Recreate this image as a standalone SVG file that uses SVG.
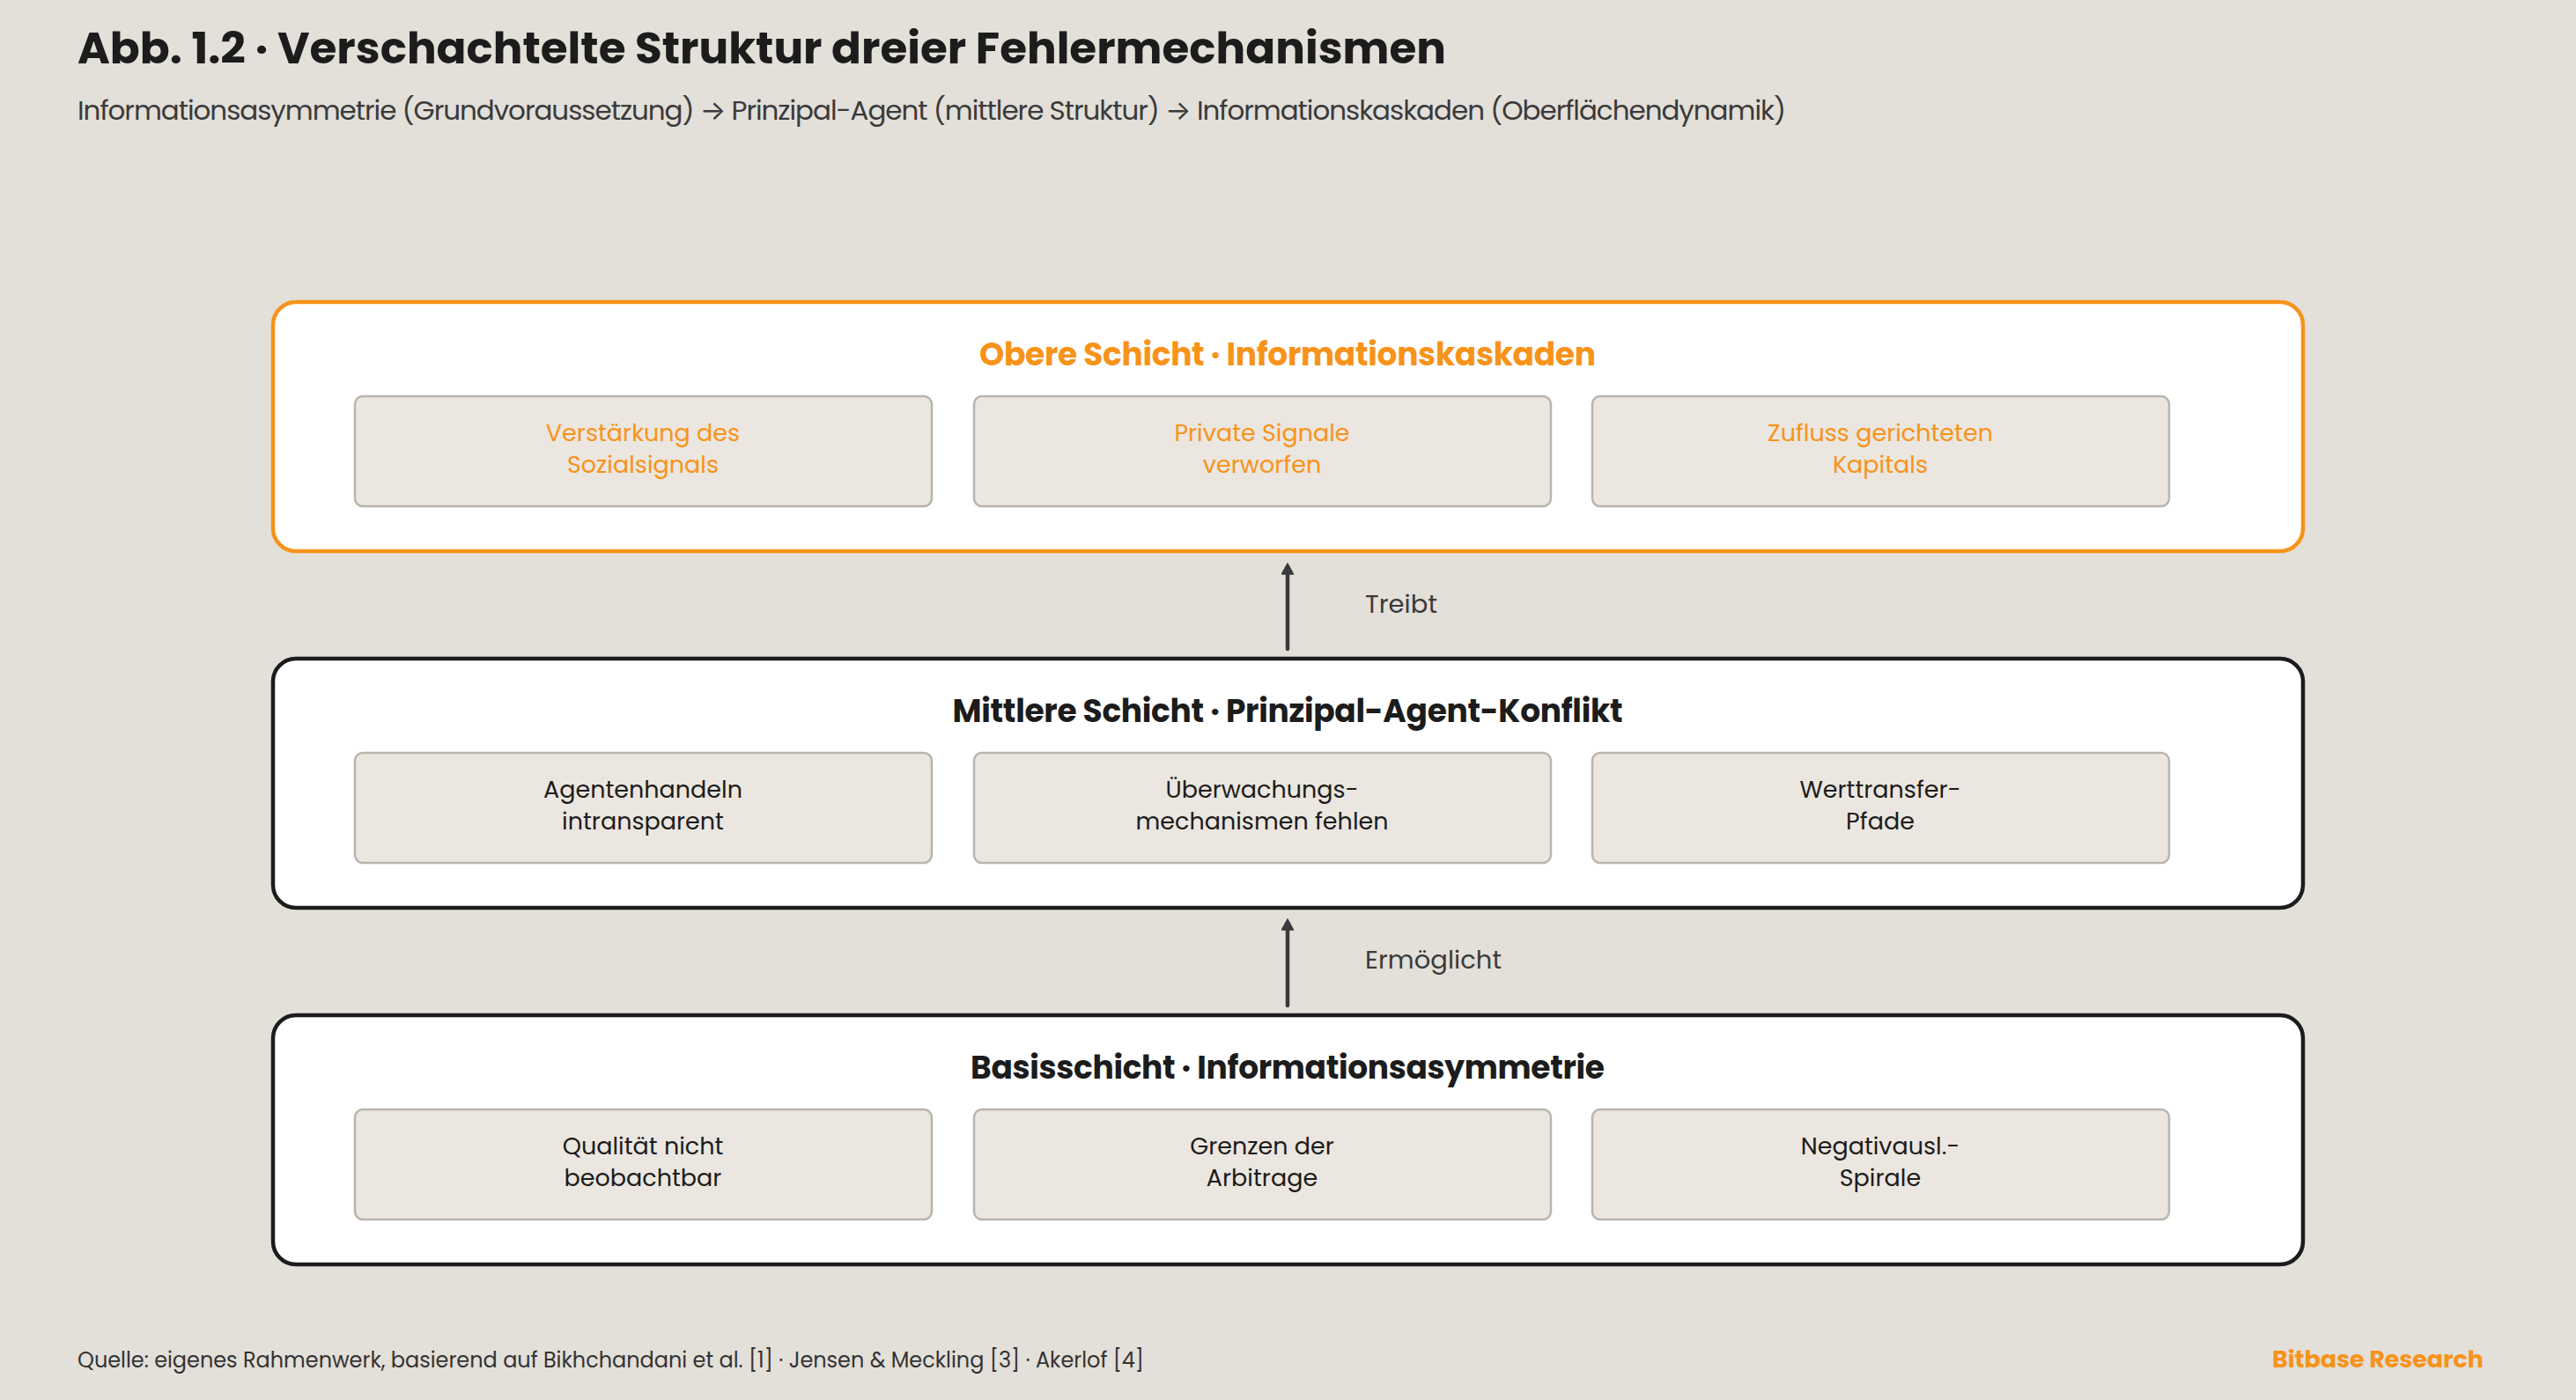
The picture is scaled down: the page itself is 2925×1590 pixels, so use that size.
<svg xmlns="http://www.w3.org/2000/svg" width="2925" height="1590" viewBox="0 0 2925 1590">
<defs>
<style>
text{font-family:"Poppins","Inter","Noto Sans","Liberation Sans",sans-serif;}
.title{font-size:50px;font-weight:700;fill:#1c1c1c;}
.sub{font-size:31px;font-weight:400;fill:#3a3a3a;}
.layer{fill:#ffffff;stroke:#1c1c1c;stroke-width:4.5;}
.layer.top{stroke:#f7931a;}
.lt{font-size:36px;font-weight:700;fill:#1c1c1c;text-anchor:middle;}
.lt.top{fill:#f7931a;}
.cell{fill:#ebe6df;stroke:#b9b5ad;stroke-width:2.5;}
.ct{font-size:27px;font-weight:400;fill:#1c1c1c;text-anchor:middle;}
.ct.top{fill:#f7931a;}
.conn{stroke:#3a3a3a;stroke-width:4.5;fill:none;stroke-linecap:round;}
.cl{font-size:29px;font-weight:400;fill:#3a3a3a;}
.foot{font-size:24px;fill:#333333;}
.brand{font-size:27px;font-weight:700;fill:#f7931a;text-anchor:end;}
</style>
<marker id="ah" viewBox="-1 -1 14 15" refX="0" refY="6.5" markerWidth="14" markerHeight="15" markerUnits="userSpaceOnUse" orient="auto">
<path d="M0,0 L12,6.5 L0,13 z" fill="#3a3a3a" stroke="#3a3a3a" stroke-width="1.5" stroke-linejoin="round"/>
</marker>
</defs>
<rect x="0" y="0" width="2925" height="1590" fill="#e3dfd9"/>
<text class="title" x="88" y="72" textLength="1554">Abb. 1.2 · Verschachtelte Struktur dreier Fehlermechanismen</text>
<text class="sub" x="88" y="136" textLength="1940">Informationsasymmetrie (Grundvoraussetzung) → Prinzipal-Agent (mittlere Struktur) → Informationskaskaden (Oberflächendynamik)</text>

<g id="layer-top">
<rect class="layer top" x="310" y="343" width="2305" height="283" rx="26"/>
<text class="lt top" x="1462" y="415" textLength="700">Obere Schicht · Informationskaskaden</text>
</g>
<g id="top-1">
<rect class="cell" x="403" y="450" width="655" height="125" rx="9"/>
<text class="ct top" x="730" y="501">Verstärkung des</text>
<text class="ct top" x="730" y="537">Sozialsignals</text>
</g>
<g id="top-2">
<rect class="cell" x="1106" y="450" width="655" height="125" rx="9"/>
<text class="ct top" x="1433" y="501">Private Signale</text>
<text class="ct top" x="1433" y="537">verworfen</text>
</g>
<g id="top-3">
<rect class="cell" x="1808" y="450" width="655" height="125" rx="9"/>
<text class="ct top" x="2135" y="501">Zufluss gerichteten</text>
<text class="ct top" x="2135" y="537">Kapitals</text>
</g>

<g id="layer-mid">
<rect class="layer" x="310" y="748" width="2305" height="283" rx="26"/>
<text class="lt" x="1462" y="820" textLength="761">Mittlere Schicht · Prinzipal-Agent-Konflikt</text>
</g>
<g id="mid-1">
<rect class="cell" x="403" y="855" width="655" height="125" rx="9"/>
<text class="ct" x="730" y="906">Agentenhandeln</text>
<text class="ct" x="730" y="942">intransparent</text>
</g>
<g id="mid-2">
<rect class="cell" x="1106" y="855" width="655" height="125" rx="9"/>
<text class="ct" x="1433" y="906">Überwachungs-</text>
<text class="ct" x="1433" y="942">mechanismen fehlen</text>
</g>
<g id="mid-3">
<rect class="cell" x="1808" y="855" width="655" height="125" rx="9"/>
<text class="ct" x="2135" y="906">Werttransfer-</text>
<text class="ct" x="2135" y="942">Pfade</text>
</g>

<g id="layer-base">
<rect class="layer" x="310" y="1153" width="2305" height="283" rx="26"/>
<text class="lt" x="1462" y="1225" textLength="720">Basisschicht · Informationsasymmetrie</text>
</g>
<g id="base-1">
<rect class="cell" x="403" y="1260" width="655" height="125" rx="9"/>
<text class="ct" x="730" y="1311">Qualität nicht</text>
<text class="ct" x="730" y="1347">beobachtbar</text>
</g>
<g id="base-2">
<rect class="cell" x="1106" y="1260" width="655" height="125" rx="9"/>
<text class="ct" x="1433" y="1311">Grenzen der</text>
<text class="ct" x="1433" y="1347">Arbitrage</text>
</g>
<g id="base-3">
<rect class="cell" x="1808" y="1260" width="655" height="125" rx="9"/>
<text class="ct" x="2135" y="1311">Negativausl.-</text>
<text class="ct" x="2135" y="1347">Spirale</text>
</g>

<g id="connectors">
<line class="conn" x1="1462" y1="737" x2="1462" y2="652" marker-end="url(#ah)"/>
<text class="cl" x="1550" y="696" textLength="82">Treibt</text>
<line class="conn" x1="1462" y1="1142" x2="1462" y2="1056" marker-end="url(#ah)"/>
<text class="cl" x="1550" y="1100" textLength="155">Ermöglicht</text>
</g>

<text class="foot" x="88" y="1553" textLength="1211">Quelle: eigenes Rahmenwerk, basierend auf Bikhchandani et al. [1] · Jensen &amp; Meckling [3] · Akerlof [4]</text>
<text class="brand" x="2820" y="1553" textLength="240">Bitbase Research</text>
</svg>
